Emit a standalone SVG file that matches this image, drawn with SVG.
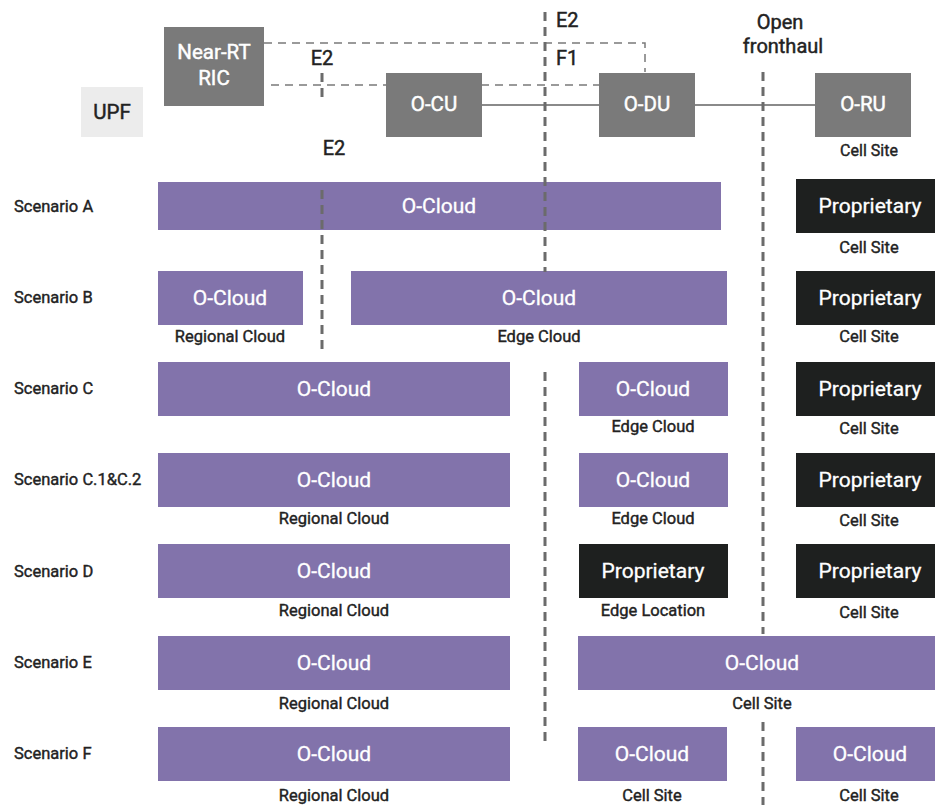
<svg xmlns="http://www.w3.org/2000/svg" width="935" height="805" viewBox="0 0 935 805">
<style>
text{font-family:Roboto,"Liberation Sans",sans-serif}
.lbl{font-size:16.5px;font-weight:400;fill:#222;stroke:#222;stroke-width:0.4px}
.top{font-size:20px;font-weight:400;fill:#222;stroke:#222;stroke-width:0.45px}
.bx{font-size:21px;font-weight:400;fill:#fff;stroke:#fff;stroke-width:0.3px;text-anchor:middle}
.tb{font-size:20.5px;stroke-width:0.45px}
.sub{font-size:16.5px;font-weight:400;fill:#222;stroke:#222;stroke-width:0.4px;text-anchor:middle}
.oc{fill:#8273ab}
.pr{fill:#1e201f}
.gr{fill:#7a7a7a}
.vd{stroke:#6b6b6b;stroke-width:3;stroke-dasharray:9 6;fill:none}
.hd{stroke:#7a7a7a;stroke-width:1.5;stroke-dasharray:8 6;fill:none}
.sl{stroke:#8a8a8a;stroke-width:2;fill:none}
</style>
<rect width="935" height="805" fill="#fff"/>
<g id="connectors-back">
<path class="hd" d="M264 43H645V72"/>
<path class="hd" d="M271 85H599"/>
<path class="sl" d="M482 105H599M695 105H815"/>
<path class="vd" d="M322 73V102"/>
</g>
<g id="upf"><rect x="81" y="87" width="62" height="50" fill="#ececec"/><text class="bx tb" x="112" y="119" style="fill:#222;stroke:#222">UPF</text></g>
<g id="ric"><rect class="gr" x="164" y="27" width="100" height="79"/><text class="bx tb" x="214" y="59">Near-RT</text><text class="bx tb" x="214" y="85">RIC</text></g>
<g id="ocu"><rect class="gr" x="386" y="73" width="96" height="64"/><text class="bx tb" x="434" y="111">O-CU</text></g>
<g id="odu"><rect class="gr" x="599" y="73" width="96" height="64"/><text class="bx tb" x="647" y="111">O-DU</text></g>
<g id="oru"><rect class="gr" x="815" y="73" width="96" height="64"/><text class="bx tb" x="863" y="111">O-RU</text><text class="sub" x="869" y="156" style="font-size:16px">Cell Site</text></g>
<g id="labels-top">
<text class="top" x="322" y="65" text-anchor="middle">E2</text>
<text class="top" x="334" y="155" text-anchor="middle">E2</text>
<text class="top" x="556" y="27">E2</text>
<text class="top" x="556" y="65">F1</text>
<text class="top" x="780" y="29" text-anchor="middle">Open</text>
<text class="top" x="783" y="53" text-anchor="middle">fronthaul</text>
</g>
<g id="scenario-a">
<text class="lbl" x="14" y="212">Scenario A</text>
<rect class="oc" x="158" y="182" width="563" height="48"/><text class="bx" x="439" y="213">O-Cloud</text>
<rect class="pr" x="796" y="179" width="139" height="54"/><text class="bx" x="870" y="213">Proprietary</text>
<text class="sub" x="869" y="253">Cell Site</text>
</g>
<g id="scenario-b">
<text class="lbl" x="14" y="303">Scenario B</text>
<rect class="oc" x="158" y="271" width="145" height="54"/><text class="bx" x="230" y="305">O-Cloud</text>
<text class="sub" x="230" y="342">Regional Cloud</text>
<rect class="oc" x="351" y="271" width="376" height="54"/><text class="bx" x="539" y="305">O-Cloud</text>
<text class="sub" x="539" y="342">Edge Cloud</text>
<rect class="pr" x="796" y="271" width="139" height="54"/><text class="bx" x="870" y="305">Proprietary</text>
<text class="sub" x="869" y="342">Cell Site</text>
</g>
<g id="scenario-c">
<text class="lbl" x="14" y="394">Scenario C</text>
<rect class="oc" x="158" y="362" width="352" height="54"/><text class="bx" x="334" y="396">O-Cloud</text>
<rect class="oc" x="579" y="362" width="149" height="54"/><text class="bx" x="653" y="396">O-Cloud</text>
<text class="sub" x="653" y="432">Edge Cloud</text>
<rect class="pr" x="796" y="362" width="139" height="54"/><text class="bx" x="870" y="396">Proprietary</text>
<text class="sub" x="869" y="434">Cell Site</text>
</g>
<g id="scenario-c1c2">
<text class="lbl" x="14" y="485">Scenario C.1&amp;C.2</text>
<rect class="oc" x="158" y="453" width="352" height="54"/><text class="bx" x="334" y="487">O-Cloud</text>
<text class="sub" x="334" y="524">Regional Cloud</text>
<rect class="oc" x="579" y="453" width="149" height="54"/><text class="bx" x="653" y="487">O-Cloud</text>
<text class="sub" x="653" y="524">Edge Cloud</text>
<rect class="pr" x="796" y="453" width="139" height="54"/><text class="bx" x="870" y="487">Proprietary</text>
<text class="sub" x="869" y="526">Cell Site</text>
</g>
<g id="scenario-d">
<text class="lbl" x="14" y="577">Scenario D</text>
<rect class="oc" x="158" y="544" width="352" height="54"/><text class="bx" x="334" y="578">O-Cloud</text>
<text class="sub" x="334" y="616">Regional Cloud</text>
<rect class="pr" x="579" y="544" width="149" height="54"/><text class="bx" x="653" y="578">Proprietary</text>
<text class="sub" x="653" y="616">Edge Location</text>
<rect class="pr" x="796" y="544" width="139" height="54"/><text class="bx" x="870" y="578">Proprietary</text>
<text class="sub" x="869" y="618">Cell Site</text>
</g>
<g id="scenario-e">
<text class="lbl" x="14" y="668">Scenario E</text>
<rect class="oc" x="158" y="636" width="352" height="54"/><text class="bx" x="334" y="670">O-Cloud</text>
<text class="sub" x="334" y="709">Regional Cloud</text>
<rect class="oc" x="578" y="636" width="357" height="54"/><text class="bx" x="762" y="670">O-Cloud</text>
<text class="sub" x="762" y="709">Cell Site</text>
</g>
<g id="scenario-f">
<text class="lbl" x="14" y="759">Scenario F</text>
<rect class="oc" x="158" y="727" width="352" height="54"/><text class="bx" x="334" y="761">O-Cloud</text>
<text class="sub" x="334" y="801">Regional Cloud</text>
<rect class="oc" x="578" y="727" width="149" height="54"/><text class="bx" x="652" y="761">O-Cloud</text>
<text class="sub" x="652" y="801">Cell Site</text>
<rect class="oc" x="796" y="727" width="139" height="54"/><text class="bx" x="870" y="761">O-Cloud</text>
<text class="sub" x="869" y="801">Cell Site</text>
</g>
<g id="connectors">
<path class="vd" d="M545 12V272M545 372V746"/>
<path class="vd" d="M322 190V353"/>
<path class="vd" d="M763 72V634M763 722V805"/>
</g>
</svg>
